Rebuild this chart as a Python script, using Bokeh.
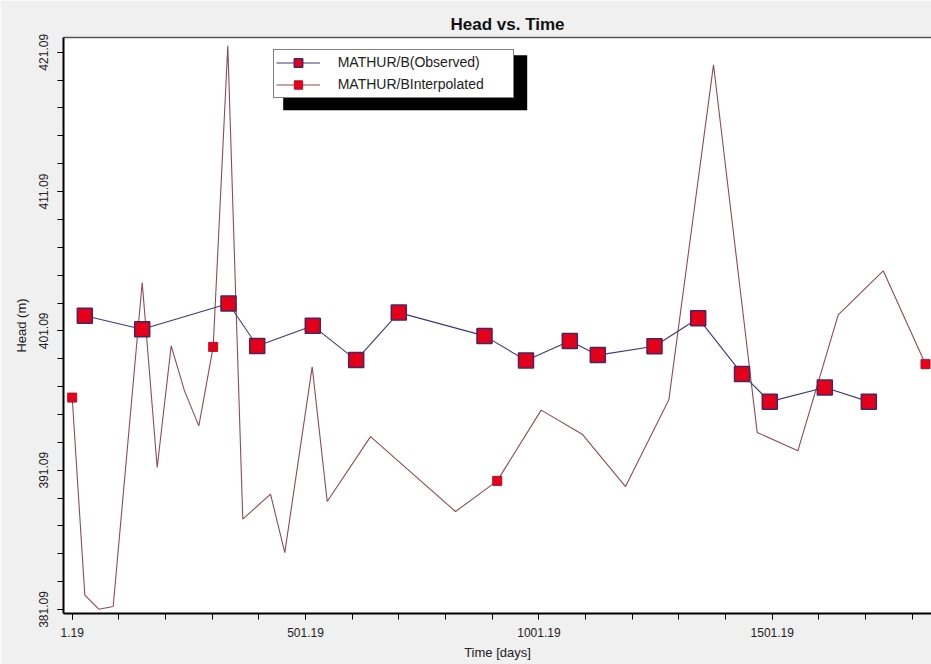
import numpy as np
from bokeh.plotting import figure
from bokeh.models import (FixedTicker, PrintfTickFormatter, Legend, LegendItem,
                          LinearAxis, BoxAnnotation, Range1d)
from bokeh.embed import file_html
from bokeh.resources import INLINE

# ---------------- data ----------------
obs_days = [28.2, 151.2, 336.1, 397.6, 516.7, 609.7, 701.0, 884.6, 973.5,
            1067.4, 1127.4, 1248.9, 1342.5, 1436.4, 1495.9, 1613.8, 1708.1]
obs_head = [402.17, 401.21, 403.05, 400.01, 401.45, 398.99, 402.40, 400.73,
            398.97, 400.37, 399.35, 399.99, 402.00, 398.00, 396.01, 397.02, 396.01]

interp_days = [1.19, 28.2, 58.2, 89.0, 151.2, 183.3, 213.3, 241.8, 272.5, 303.3,
               334.6, 366.7, 426.1, 456.7, 515.4, 547.6, 640.4, 822.5, 911.9,
               1006.1, 1094.0, 1186.8, 1279.6, 1375.3, 1468.9, 1556.0, 1642.5,
               1739.0, 1829.6]
interp_head = [396.30, 382.12, 381.11, 381.30, 404.56, 391.28, 400.01, 396.78,
               394.27, 399.94, 421.55, 387.57, 389.37, 385.17, 398.51, 388.84,
               393.50, 388.12, 390.32, 395.40, 393.67, 389.91, 396.14, 420.19,
               393.80, 392.48, 402.24, 405.40, 398.70]
interp_marker_idx = [0, 9, 18, 28]

x_ticks = [1.19, 501.19, 1001.19, 1501.19]
y_ticks = [381.09, 391.09, 401.09, 411.09, 421.09]

series_labels = ["MATHUR/B(Observed)", "MATHUR/BInterpolated"]
title_text = "Head vs. Time"
x_title = "Time [days]"
y_title = "Head (m)"

# ---------------- layout constants ----------------
X0, X1 = -17.45, 1842.4
Y0, Y1 = 380.8, 422.15
FW, FH = 868, 576
FONT = "Liberation Sans"

p = figure(width=931, height=664, frame_width=FW, frame_height=FH,
           x_range=Range1d(X0, X1), y_range=Range1d(Y0, Y1),
           output_backend="svg", toolbar_location=None,
           min_border_left=63, min_border_right=0,
           min_border_top=37, min_border_bottom=51)

p.background_fill_color = "white"
p.border_fill_color = "#f0f0f0"
p.outline_line_color = None
p.xgrid.visible = False
p.ygrid.visible = False

xa = p.below[0]
ya = p.left[0]

# title
p.title.text = title_text
p.title.text_font = FONT
p.title.text_font_size = "17px"
p.title.text_font_style = "bold"
p.title.text_color = "#111111"
p.title.align = "left"
p.title.offset = 387
p.title.standoff = 8

# top border line as an empty axis
top_ax = LinearAxis(ticker=FixedTicker(ticks=[]),
                    axis_line_color="#555555", axis_line_width=1.5,
                    major_tick_line_color=None, minor_tick_line_color=None,
                    major_tick_out=0, minor_tick_out=0,
                    major_label_text_font_size="0px", major_label_text_color=None,
                    major_label_standoff=0)
p.add_layout(top_ax, "above")

# axes
xa.ticker = FixedTicker(ticks=x_ticks,
                        minor_ticks=list(np.arange(1.19, 1900, 100.0)))
xa.formatter = PrintfTickFormatter(format="%.2f")
xa.axis_label = x_title
ya.ticker = FixedTicker(ticks=y_ticks,
                        minor_ticks=list(np.arange(379.09, 423, 2.0)))
ya.formatter = PrintfTickFormatter(format="%.2f")
ya.axis_label = y_title
ya.major_label_orientation = "vertical"

for ax in (xa, ya):
    ax.axis_line_color = "black"
    ax.axis_line_width = 2
    ax.major_tick_line_color = "black"
    ax.minor_tick_line_color = "black"
    ax.major_tick_out = 6
    ax.major_tick_in = 0
    ax.minor_tick_out = 6
    ax.minor_tick_in = 0
    ax.major_label_text_font = FONT
    ax.major_label_text_font_size = "12px"
    ax.major_label_text_color = "#222222"
    ax.axis_label_text_font = FONT
    ax.axis_label_text_font_size = "13px"
    ax.axis_label_text_font_style = "normal"
    ax.axis_label_text_color = "#222222"
xa.major_label_standoff = 8
xa.axis_label_standoff = 5
ya.major_label_standoff = 9
ya.axis_label_standoff = 8

# interpolated series
interp_line = p.line(interp_days, interp_head, line_color="#8e4c52", line_width=1.1)
mx = [interp_days[i] for i in interp_marker_idx]
my = [interp_head[i] for i in interp_marker_idx]
interp_pts = p.scatter(mx, my, marker="square", size=9, fill_color="#e8001c",
                       line_color="#b01020", line_width=1)

# observed series
obs_line = p.line(obs_days, obs_head, line_color="#3a3a7a", line_width=1.1)
obs_pts = p.scatter(obs_days, obs_head, marker="square", size=15,
                    fill_color="#e4001b", line_color="#4a2460", line_width=1.5)

# legend geometry (pixels inside the frame)
LEG_L, LEG_T = 209.7, 13.7
PAD, GW, GH, SP, STAND, LW = 2, 44, 21, 1, 18, 173
LEG_W = 2 * PAD + GW + STAND + LW
LEG_H = 2 * PAD + 2 * GH + SP

def px2x(px):
    return X0 + px / FW * (X1 - X0)

def py2y(py):
    return Y1 - py / FH * (Y1 - Y0)

shadow = BoxAnnotation(left=px2x(LEG_L + 10), right=px2x(LEG_L + LEG_W + 15),
                       top=py2y(LEG_T + 4), bottom=py2y(LEG_T + LEG_H + 12),
                       fill_color="black", fill_alpha=1.0, line_color=None,
                       level="overlay")
p.add_layout(shadow)

legend = Legend(items=[LegendItem(label=series_labels[0], renderers=[obs_line, obs_pts]),
                       LegendItem(label=series_labels[1], renderers=[interp_line, interp_pts])],
                location=(LEG_L, FH - LEG_T - LEG_H),
                padding=PAD, spacing=SP, margin=0,
                glyph_width=GW, glyph_height=GH, label_standoff=STAND,
                label_width=LW, label_height=15,
                label_text_font=FONT, label_text_font_size="14px",
                label_text_color="#222222",
                border_line_color="black", border_line_width=1,
                background_fill_color="white", background_fill_alpha=1.0)
p.add_layout(legend)

open("out.html", "w").write(file_html(p, INLINE))
